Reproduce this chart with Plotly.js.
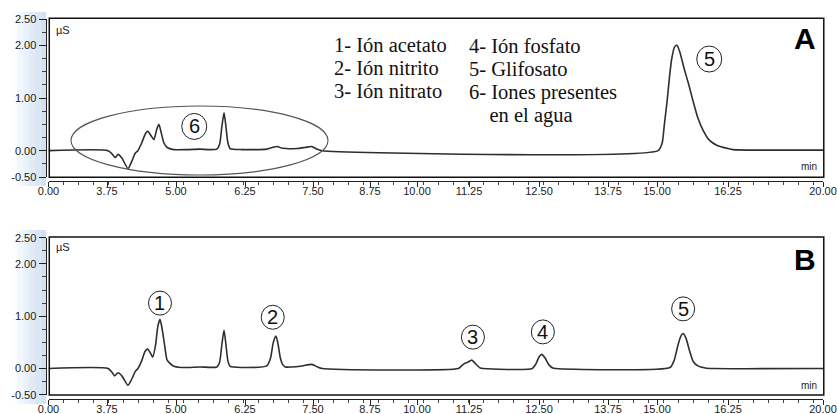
<!DOCTYPE html>
<html><head><meta charset="utf-8">
<script src="https://cdn.plot.ly/plotly-3.0.1.min.js"></script>
<style>html,body{margin:0;padding:0;background:#fff}</style>
</head><body><div id="chart" style="width:837px;height:414px"></div>
<script>
// ---------------- DATA ----------------
// x tick labels (minutes) as printed on the chromatogram axis
const tickTimes  = [0, 3.75, 5, 6.25, 7.5, 8.75, 10, 11.25, 12.5, 13.75, 15, 16.25, 20];
const tickLabels = ['0.00','3.75','5.00','6.25','7.50','8.75','10.00','11.25','12.50','13.75','15.00','16.25','20.00'];
const yTickVals   = [-0.5, 0, 1, 2, 2.5];
const yTickLabels = ['-0.50','0.00','1.00','2.00','2.50'];

// Chromatogram A (muestra de agua + glifosato)
const timeA = [0, 3.77, 3.84, 3.90, 3.95, 4.02, 4.13, 4.20, 4.26, 4.31, 4.38, 4.45, 4.49, 4.55, 4.60, 4.65, 4.69, 4.73, 4.78, 4.84, 4.95, 5.20, 5.43, 5.60, 5.74, 5.79, 5.83, 5.87, 5.90, 5.94, 5.98, 6.20, 6.65, 6.75, 6.84, 6.92, 7.00, 7.20, 7.35, 7.48, 7.58, 7.70, 15.02, 15.09, 15.13, 15.18, 15.22, 15.26, 15.31, 15.35, 15.40, 15.48, 15.56, 15.63, 15.72, 15.81, 15.92, 16.06, 16.25, 16.45, 17.50, 20];
const signalA = [0, 0, -0.06, -0.13, -0.07, -0.14, -0.34, -0.20, -0.05, 0.00, 0.15, 0.33, 0.37, 0.28, 0.21, 0.40, 0.50, 0.35, 0.15, 0.06, 0.02, 0.02, 0.03, 0.02, 0.03, 0.12, 0.45, 0.72, 0.50, 0.15, 0.04, 0.02, 0.03, 0.06, 0.08, 0.05, 0.04, 0.04, 0.06, 0.08, 0.03, 0.00, 0.00, 0.14, 0.50, 0.96, 1.40, 1.75, 1.97, 2.00, 1.88, 1.55, 1.25, 0.96, 0.62, 0.39, 0.20, 0.10, 0.04, 0.02, 0.01, 0.01];

// Chromatogram B (patrones)
const timeB = [0, 3.77, 3.84, 3.89, 3.95, 4.02, 4.13, 4.20, 4.26, 4.31, 4.38, 4.44, 4.49, 4.55, 4.58, 4.63, 4.67, 4.71, 4.75, 4.80, 4.84, 4.95, 5.10, 5.43, 5.74, 5.79, 5.83, 5.87, 5.90, 5.94, 5.98, 6.20, 6.65, 6.72, 6.77, 6.82, 6.86, 6.90, 6.94, 6.99, 7.10, 7.30, 7.48, 7.60, 7.70, 10.99, 11.07, 11.15, 11.22, 11.30, 11.36, 11.45, 11.50, 12.38, 12.45, 12.50, 12.55, 12.61, 12.68, 12.75, 12.80, 15.23, 15.30, 15.37, 15.42, 15.46, 15.51, 15.57, 15.64, 15.72, 15.85, 16.00, 20];
const signalB = [0, 0, -0.07, -0.14, -0.08, -0.14, -0.32, -0.20, -0.06, 0.00, 0.15, 0.33, 0.37, 0.27, 0.22, 0.45, 0.80, 0.94, 0.75, 0.40, 0.16, 0.05, 0.02, 0.03, 0.03, 0.12, 0.45, 0.73, 0.50, 0.15, 0.04, 0.02, 0.05, 0.20, 0.50, 0.62, 0.45, 0.20, 0.08, 0.03, 0.03, 0.05, 0.08, 0.03, 0.00, 0.00, 0.05, 0.10, 0.12, 0.16, 0.10, 0.01, 0.00, 0.00, 0.10, 0.22, 0.27, 0.20, 0.07, 0.01, 0.00, 0.02, 0.15, 0.45, 0.62, 0.67, 0.58, 0.35, 0.13, 0.05, 0.01, 0.00, 0.00];

// circled peak labels
const peakLabelsA = ['6', '5'];
const peakLabelTimesA = [5.33, 15.92];
const peakLabelValsA  = [0.46, 1.74];
const peakLabelsB = ['1', '2', '3', '4', '5'];
const peakLabelTimesB = [4.71, 6.76, 11.32, 12.57, 15.46];
const peakLabelValsB  = [1.25, 0.98, 0.60, 0.70, 1.14];

// legend text
const legendCol1 = ['1- Ión acetato', '2- Ión nitrito', '3- Ión nitrato'];
const legendCol2 = ['4- Ión fosfato', '5- Glifosato', '6- Iones presentes', '    en el agua'];

// ---------------- LAYOUT ----------------
const W = 837, H = 414;
// pixel position of each printed tick on the (non-uniform) time axis
const TICK_PX = [48.5, 107, 176, 245, 313, 370, 417, 469, 539, 608, 657, 728, 823];
function warp(t) {
  for (let i = 0; i < tickTimes.length - 1; i++) {
    if (t <= tickTimes[i + 1]) {
      const f = (t - tickTimes[i]) / (tickTimes[i + 1] - tickTimes[i]);
      return TICK_PX[i] + f * (TICK_PX[i + 1] - TICK_PX[i]);
    }
  }
  return TICK_PX[TICK_PX.length - 1];
}
const px = x => x / W;
const py = y => 1 - y / H;

const lineStyle = {color: '#2e2e2e', width: 1.6, shape: 'spline', smoothing: 0.6};
const traces = [
  {x: timeA.map(warp), y: signalA, xaxis: 'x', yaxis: 'y', mode: 'lines', line: lineStyle, hoverinfo: 'skip'},
  {x: timeB.map(warp), y: signalB, xaxis: 'x2', yaxis: 'y2', mode: 'lines', line: lineStyle, hoverinfo: 'skip'}
];

const tickFont = {family: 'Arial, Liberation Sans, sans-serif', size: 11, color: '#1a1a1a'};
function xAxis(posY) {
  return {
    range: [TICK_PX[0], TICK_PX[TICK_PX.length - 1]], domain: [px(TICK_PX[0]), px(TICK_PX[TICK_PX.length - 1])],
    anchor: 'free', position: posY, showgrid: false, zeroline: false,
    showline: true, linecolor: '#222', linewidth: 1,
    tickmode: 'array', tickvals: TICK_PX, ticktext: tickLabels,
    ticks: 'outside', ticklen: 5, tickwidth: 1, tickcolor: '#222', tickfont: tickFont,
    ticklabelstandoff: -5,
    minor: {tickmode: 'linear', tick0: TICK_PX[0], dtick: 15, ticks: 'outside', ticklen: 3, tickcolor: '#444'},
    fixedrange: true
  };
}
function yAxis(dom) {
  return {
    range: [-0.5, 2.5], domain: dom, anchor: 'free', position: px(45.5),
    showgrid: false, zeroline: false, showline: true, linecolor: '#222', linewidth: 1,
    tickmode: 'array', tickvals: yTickVals, ticktext: yTickLabels,
    ticks: 'outside', ticklen: 7, tickwidth: 1, tickcolor: '#222', tickfont: tickFont,
    minor: {tickmode: 'linear', tick0: 0, dtick: 0.25, ticks: 'outside', ticklen: 4, tickcolor: '#444'},
    fixedrange: true
  };
}

const shapes = [];
const annotations = [];

// light-blue gradient band behind the y axis labels
function band(y0, y1) {
  const cols = ['#fbfdff', '#f2f7fd', '#e9f1fa', '#e1ebf7', '#d9e6f4', '#d3e2f2'];
  for (let i = 0; i < cols.length; i++) {
    shapes.push({type: 'rect', xref: 'paper', yref: 'paper', layer: 'below',
      x0: px(12 + i * 5.7), x1: px(12 + (i + 1) * 5.7), y0: py(y1), y1: py(y0),
      fillcolor: cols[i], line: {width: 0}});
  }
}
band(12, 186);
band(230, 404);

// frames around plot areas
[['x', 'y'], ['x2', 'y2']].forEach(([xr, yr]) => {
  shapes.push({type: 'rect', xref: xr + ' domain', yref: yr + ' domain', x0: 0.001, x1: 1.001, y0: -0.002, y1: 1.005,
    line: {color: '#111', width: 1.5}, fillcolor: 'rgba(0,0,0,0)'});
});

// ellipse around group 6
shapes.push({type: 'circle', xref: 'paper', yref: 'paper', x0: px(71), x1: px(328), y0: py(175), y1: py(106),
  line: {color: '#555', width: 1.1}});

function circled(labels, times, vals, xr, yr, r) {
  labels.forEach((lab, i) => {
    const xc = warp(times[i]);
    shapes.push({type: 'circle', xref: xr, yref: yr, xsizemode: 'pixel', ysizemode: 'pixel',
      xanchor: xc, yanchor: vals[i], x0: -r, x1: r, y0: -r - 0.5, y1: r + 0.5,
      line: {color: '#222', width: 1}});
    annotations.push({xref: xr, yref: yr, x: xc, y: vals[i], text: lab, showarrow: false,
      xanchor: 'center', yanchor: 'middle', yshift: 0,
      font: {family: 'Arial, Liberation Sans, sans-serif', size: 20, color: '#111'}});
  });
}
circled(peakLabelsA, peakLabelTimesA, peakLabelValsA, 'x', 'y', 12.5);
circled(peakLabelsB, peakLabelTimesB, peakLabelValsB, 'x2', 'y2', 11.5);

// panel letters, units
const sans = 'Arial, Liberation Sans, sans-serif';
[['A', 39], ['B', 259]].forEach(([t, y]) => {
  annotations.push({xref: 'paper', yref: 'paper', x: px(805), y: py(y), text: '<b>' + t + '</b>', showarrow: false,
    xanchor: 'center', yanchor: 'middle', font: {family: sans, size: 30, color: '#000'}});
});
[30, 247].forEach(y => {
  annotations.push({xref: 'paper', yref: 'paper', x: px(54), y: py(y), text: 'µS', showarrow: false,
    xanchor: 'left', yanchor: 'middle', font: {family: sans, size: 11, color: '#222'}});
});
[166, 385].forEach(y => {
  annotations.push({xref: 'paper', yref: 'paper', x: px(819), y: py(y), text: 'min', showarrow: false,
    xanchor: 'right', yanchor: 'middle', font: {family: sans, size: 10, color: '#222'}});
});

// legend text
const serif = 'Times New Roman, Liberation Serif, serif';
const legY1 = [45, 68, 91];
legendCol1.forEach((t, i) => annotations.push({xref: 'paper', yref: 'paper', x: px(332), y: py(legY1[i]), text: t,
  showarrow: false, xanchor: 'left', yanchor: 'middle', font: {family: serif, size: 20.5, color: '#111'}}));
const legY2 = [46, 69, 92, 115];
legendCol2.forEach((t, i) => annotations.push({xref: 'paper', yref: 'paper', x: px(467), y: py(legY2[i]),
  text: t.replace(/^ +/, m => '&nbsp;'.repeat(m.length)),
  showarrow: false, xanchor: 'left', yanchor: 'middle', font: {family: serif, size: 20.5, color: '#111'}}));

const layout = {
  width: W, height: H, autosize: false, showlegend: false,
  margin: {l: 0, r: 0, t: 0, b: 0},
  paper_bgcolor: '#ffffff', plot_bgcolor: '#ffffff',
  xaxis: xAxis(py(181)),
  yaxis: yAxis([py(177), py(19)]),
  xaxis2: xAxis(py(399)),
  yaxis2: yAxis([py(394.7), py(237.7)]),
  shapes: shapes, annotations: annotations
};
Plotly.newPlot('chart', traces, layout, {staticPlot: true, displayModeBar: false});
</script>
</body></html>
